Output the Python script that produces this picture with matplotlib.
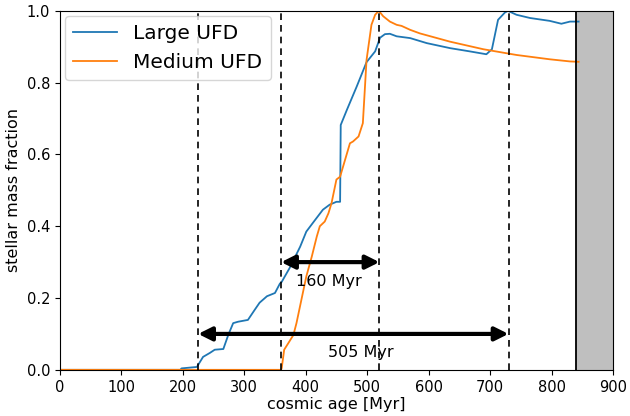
import matplotlib
matplotlib.use("Agg")
import matplotlib.pyplot as plt
import numpy as np

# Large UFD (blue)
large_age = [0, 196, 198, 223, 233, 244, 252, 266, 274, 282, 290, 306, 317, 325, 337, 350,
             358, 361, 374, 391, 401, 412, 428, 439, 450, 456, 457, 467, 483, 499, 513, 521,
             529, 537, 548, 570, 597, 635, 667, 694, 703, 713, 724, 729, 743, 765, 797, 816,
             830, 844]
large_frac = [0, 0, 0.004, 0.008, 0.036, 0.047, 0.056, 0.058, 0.097, 0.13, 0.134, 0.139,
              0.167, 0.187, 0.205, 0.214, 0.24, 0.245, 0.284, 0.343, 0.385, 0.41, 0.446,
              0.46, 0.468, 0.468, 0.682, 0.724, 0.789, 0.857, 0.887, 0.925, 0.935, 0.936,
              0.929, 0.924, 0.91, 0.896, 0.887, 0.879, 0.893, 0.975, 0.995, 1.0, 0.989,
              0.98, 0.972, 0.964, 0.97, 0.97]

# Medium UFD (orange)
medium_age = [0, 360, 361, 365, 372, 380, 385, 393, 401, 410, 418, 423, 431, 437, 442, 450,
              456, 472, 477, 486, 493, 499, 507, 513, 519, 526, 537, 548, 556, 570, 586,
              635, 689, 743, 797, 830, 844]
medium_frac = [0, 0, 0.005, 0.056, 0.075, 0.097, 0.13, 0.195, 0.26, 0.316, 0.371, 0.4,
               0.413, 0.436, 0.464, 0.53, 0.538, 0.631, 0.636, 0.65, 0.687, 0.863, 0.961,
               0.989, 1.0, 0.985, 0.97, 0.961, 0.958, 0.947, 0.937, 0.914, 0.893, 0.877,
               0.865, 0.859, 0.858]

# dashed markers, arrows and the end of the simulation
marker_ages = [225, 360, 520, 730]
spans = [(360, 520, 0.30, "160 Myr", 437, 0.245), (225, 730, 0.10, "505 Myr", 490, 0.047)]
end_age = 840

fig = plt.figure(figsize=(6.3, 4.16), dpi=100)
ax = fig.add_axes([0.095, 0.111, 0.878, 0.863])

ax.plot(large_age, large_frac, color="tab:blue", lw=1.3, label="Large UFD")
ax.plot(medium_age, medium_frac, color="tab:orange", lw=1.3, label="Medium UFD")

for a in marker_ages:
    ax.axvline(a, color="k", ls="--", lw=1.2, dashes=(4, 3))

for x0, x1, y, txt, tx, ty in spans:
    ax.annotate("", xy=(x0, y), xytext=(x1, y),
                arrowprops=dict(arrowstyle="<|-|>", color="k", lw=3, mutation_scale=20,
                                shrinkA=0, shrinkB=0))
    ax.text(tx, ty, txt, ha="center", va="center", fontsize=11.5)

ax.axvspan(end_age, 900, color="0.75")
ax.axvline(end_age, color="k", lw=1.3)

ax.set_xlim(0, 900)
ax.set_ylim(0, 1)
ax.set_xticks(np.arange(0, 901, 100))
ax.set_yticks(np.arange(0, 1.01, 0.2))
ax.tick_params(labelsize=10.5)
ax.set_xlabel("cosmic age [Myr]", fontsize=11.5, labelpad=2)
ax.set_ylabel("stellar mass fraction", fontsize=11.5)
ax.legend(loc="upper left", fontsize=14.5, borderaxespad=0.25, handlelength=2.2)

fig.savefig("out.png", dpi=100)
